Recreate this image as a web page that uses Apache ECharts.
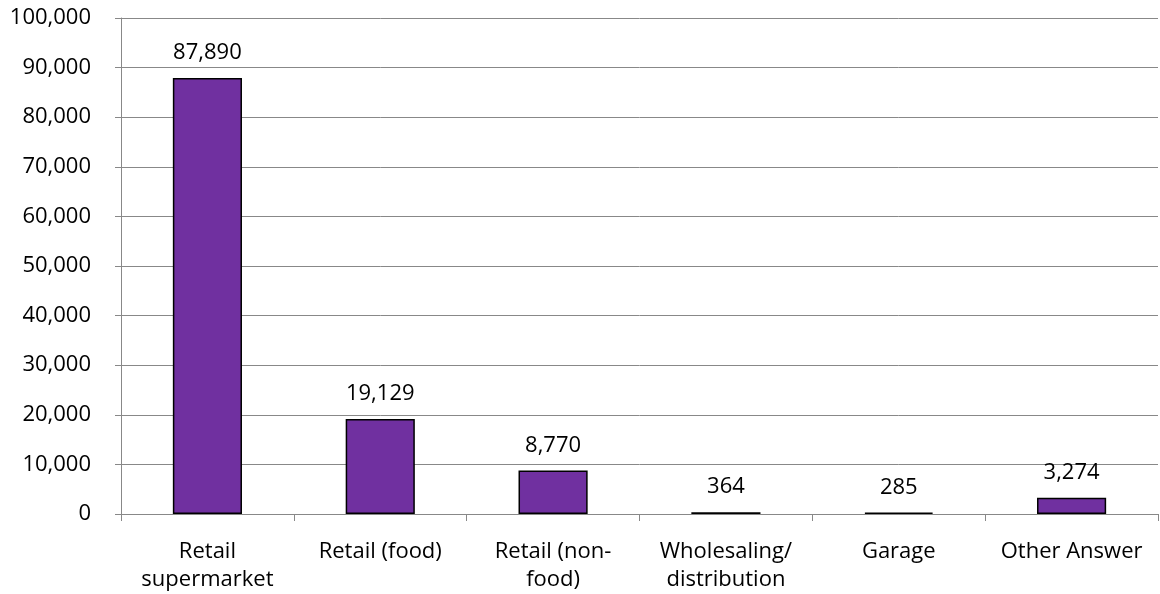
<!DOCTYPE html>
<html>
<head>
<meta charset="utf-8">
<script src="https://cdn.jsdelivr.net/npm/echarts@6/dist/echarts.min.js"></script>
<style>
  html, body { margin: 0; padding: 0; background: #fff; }
  #chart { width: 1160px; height: 594px; }
</style>
</head>
<body>
<div id="chart"></div>
<script>
// Business type categories (display labels, wrapped as on the axis)
const categories = [
  'Retail\nsupermarket',
  'Retail (food)',
  'Retail (non-\nfood)',
  'Wholesaling/\ndistribution',
  'Garage',
  'Other Answer'
];
// Counts per category
const values = [87890, 19129, 8770, 364, 285, 3274];
// Value axis range
const yMin = 0;
const yMax = 100000;
const yStep = 10000;

const fontFamily = '"Open Sans", "Liberation Sans", sans-serif';
const fontSize = 22;
const fmt = v => v.toLocaleString('en-US');

const chart = echarts.init(document.getElementById('chart'), null, { renderer: 'canvas' });
chart.setOption({
  animation: false,
  grid: { left: 121, right: 2, top: 18, bottom: 79, containLabel: false },
  xAxis: {
    type: 'category',
    data: categories,
    boundaryGap: true,
    axisLine: { show: true, lineStyle: { color: '#888888', width: 1 } },
    axisTick: { show: true, alignWithLabel: false, length: 7, lineStyle: { color: '#888888' } },
    axisLabel: {
      color: '#000', fontFamily, fontSize, margin: 24, lineHeight: 28, interval: 0
    }
  },
  yAxis: {
    type: 'value',
    min: yMin, max: yMax, interval: yStep,
    axisLine: { show: true, lineStyle: { color: '#888888', width: 1 } },
    axisTick: { show: true, length: 6, lineStyle: { color: '#888888' } },
    splitLine: { show: true, lineStyle: { color: '#888888', width: 1 } },
    axisLabel: {
      color: '#000', fontFamily, fontSize, margin: 30, formatter: fmt
    }
  },
  series: [{
    type: 'bar',
    data: values,
    barWidth: '40%',
    itemStyle: { color: '#7030A0', borderColor: '#000', borderWidth: 1.5 },
    label: {
      show: true, position: 'top', distance: 14,
      color: '#000', fontFamily, fontSize,
      formatter: p => fmt(p.value)
    }
  }]
});
</script>
</body>
</html>
